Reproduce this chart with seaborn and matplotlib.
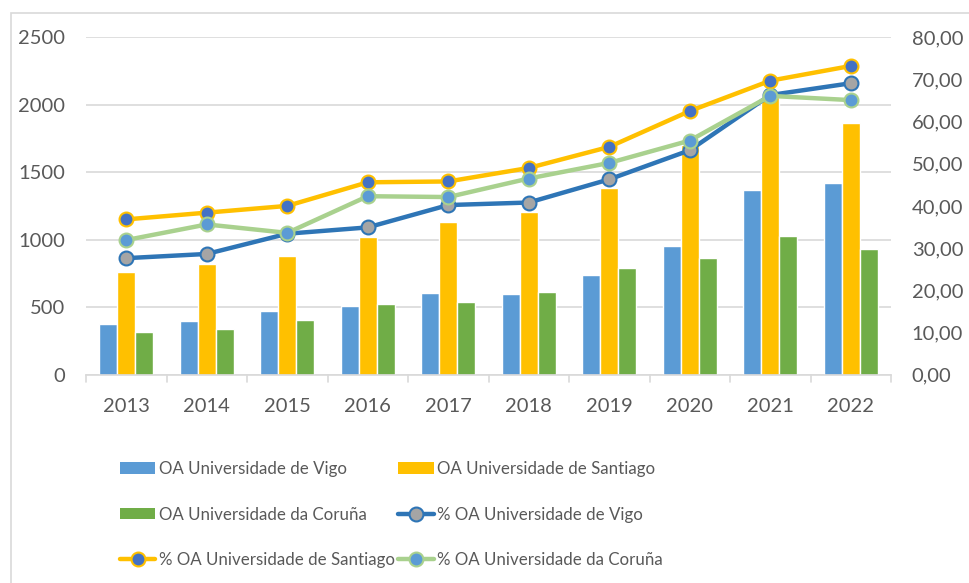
import matplotlib
matplotlib.use("Agg")
import matplotlib.pyplot as plt
from matplotlib.patches import Rectangle
from matplotlib.lines import Line2D
from matplotlib.ticker import FuncFormatter, MultipleLocator
import seaborn as sns
import pandas as pd
import numpy as np

years = ["2013", "2014", "2015", "2016", "2017", "2018", "2019", "2020", "2021", "2022"]

# numero de documentos OA
oa_vigo = [375, 397, 474, 508, 602, 600, 735, 953, 1367, 1421]
oa_santiago = [763, 818, 879, 1020, 1127, 1208, 1381, 1705, 2061, 1868]
oa_coruna = [318, 338, 402, 523, 536, 614, 790, 862, 1028, 931]

# porcentaxe OA
pct_vigo = [27.6, 28.6, 33.4, 34.9, 40.2, 40.8, 46.3, 53.2, 66.3, 69.1]
pct_santiago = [36.8, 38.4, 40.0, 45.6, 45.8, 49.0, 54.0, 62.5, 69.7, 73.2]
pct_coruna = [31.9, 35.6, 33.6, 42.3, 42.1, 46.5, 50.2, 55.5, 66.1, 65.1]

bar_names = ["OA Universidade de Vigo", "OA Universidade de Santiago", "OA Universidade da Coruña"]
line_names = ["% OA Universidade de Vigo", "% OA Universidade de Santiago", "% OA Universidade da Coruña"]

bar_colors = ["#5B9BD5", "#FFC000", "#70AD47"]
line_colors = ["#2E75B6", "#FFC000", "#A9D18E"]
marker_faces = ["#A5A5A5", "#4472C4", "#5B9BD5"]

df = pd.DataFrame({
    "year": years * 3,
    "value": oa_vigo + oa_santiago + oa_coruna,
    "serie": [bar_names[0]] * 10 + [bar_names[1]] * 10 + [bar_names[2]] * 10,
})

sns.set_style("white")
plt.rcParams["font.family"] = ["Lato", "DejaVu Sans"]
text_col = "#595959"
grid_col = "#D9D9D9"
tick_fs = 14.5

fig = plt.figure(figsize=(9.7, 5.83), dpi=100)
ax = fig.add_axes([86 / 970, 1 - 374.5 / 583, (891 - 86) / 970, (374.5 - 37.3) / 583])

sns.barplot(data=df, x="year", y="value", hue="serie", palette=bar_colors,
            width=0.67, saturation=1, ax=ax, legend=False, zorder=2)
ax.set_ylim(0, 2500)
ax.set_xlim(-0.5, 9.5)
ax.yaxis.set_major_locator(MultipleLocator(500))
ax.grid(axis="y", color=grid_col, linewidth=1.2, zorder=0)
ax.set_axisbelow(True)
ax.set_xlabel("")
ax.set_ylabel("")
for s in ["top", "right", "left"]:
    ax.spines[s].set_visible(False)
ax.spines["bottom"].set_color(grid_col)
ax.spines["bottom"].set_linewidth(1.2)
ax.tick_params(axis="y", length=0, labelsize=tick_fs, labelcolor=text_col, pad=15)
ax.tick_params(axis="x", length=0, labelsize=tick_fs, labelcolor=text_col, pad=17)
for b in np.arange(-0.5, 10, 1):
    ax.plot([b, b], [0, -0.022], transform=ax.get_xaxis_transform(), color=grid_col,
            linewidth=1.2, clip_on=False)

ax2 = ax.twinx()
x = np.arange(len(years))
for vals, name, lc, mf in zip([pct_vigo, pct_santiago, pct_coruna], line_names, line_colors, marker_faces):
    sns.lineplot(x=x, y=vals, ax=ax2, color=lc, linewidth=3.2, marker="o", markersize=10,
                 markerfacecolor=mf, markeredgecolor=lc, markeredgewidth=1.5, zorder=3)
ax2.set_ylim(0, 80)
ax2.yaxis.set_major_locator(MultipleLocator(10))
ax2.yaxis.set_major_formatter(FuncFormatter(lambda v, p: f"{v:.2f}".replace(".", ",")))
ax2.tick_params(axis="y", length=0, labelsize=tick_fs, labelcolor=text_col, pad=15)
for s in ["top", "right", "left", "bottom"]:
    ax2.spines[s].set_visible(False)
ax2.grid(False)

# leyenda
handles = {}
for name, c in zip(bar_names, bar_colors):
    handles[name] = Rectangle((0, 0), 1, 1, facecolor=c, edgecolor="none")
for name, lc, mf in zip(line_names, line_colors, marker_faces):
    handles[name] = Line2D([], [], color=lc, linewidth=3.2, marker="o", markersize=10,
                           markerfacecolor=mf, markeredgecolor=lc, markeredgewidth=1.5)
order = [bar_names[0], bar_names[2], line_names[1], bar_names[1], line_names[0], line_names[2]]
leg = fig.legend([handles[n] for n in order], order, loc="upper left",
                 bbox_to_anchor=(108 / 970, 1 - 449 / 583), ncol=2, frameon=False,
                 fontsize=12.2, handlelength=2.1, handleheight=0.65, handletextpad=0.2,
                 columnspacing=0.2, labelspacing=1.75, borderpad=0.2)
for t in leg.get_texts():
    t.set_color(text_col)

# borde del grafico
fig.patches.append(Rectangle((11 / 970, -0.05), 1.1, 1 - 13 / 583 + 0.05, transform=fig.transFigure,
                             fill=False, edgecolor=grid_col, linewidth=1.2))

fig.savefig("out.png", dpi=100)
